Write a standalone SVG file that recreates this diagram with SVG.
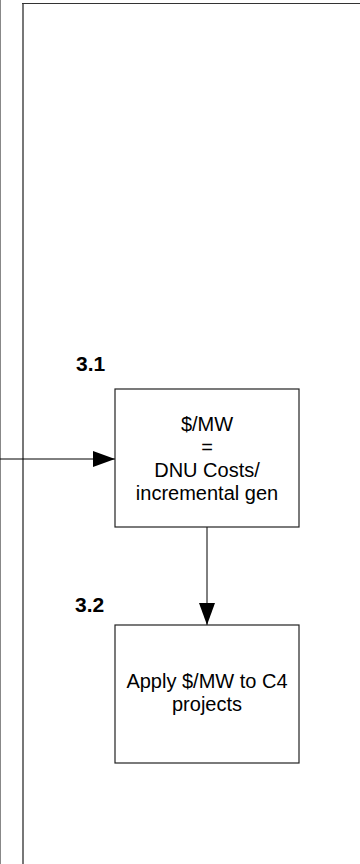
<svg xmlns="http://www.w3.org/2000/svg" width="360" height="864" viewBox="0 0 360 864">
<style>
.box{fill:#fff;stroke:#222;stroke-width:1.2}
.txt{font-family:"Liberation Sans",Arial,sans-serif;font-size:20px;fill:#000;text-anchor:middle}
.lbl{font-family:"Liberation Sans",Arial,sans-serif;font-size:21px;font-weight:bold;fill:#000}
.conn{stroke:#000;stroke-width:1;fill:none}
</style>
<defs>
<marker id="ah" markerWidth="22" markerHeight="16" refX="22" refY="8" orient="auto" markerUnits="userSpaceOnUse">
<path d="M0,0 L22,8 L0,16 Z" fill="#000"/>
</marker>
</defs>
<rect width="360" height="864" fill="#fff"/>
<g id="frame">
<line x1="0.5" y1="0" x2="0.5" y2="864" stroke="#888" stroke-width="1"/>
<line x1="23" y1="3" x2="23" y2="864" stroke="#777" stroke-width="2"/>
<line x1="22" y1="3.5" x2="360" y2="3.5" stroke="#333" stroke-width="1"/>
</g>
<g id="connectors">
<line class="conn" x1="0" y1="459" x2="115" y2="459" marker-end="url(#ah)"/>
<line class="conn" x1="207" y1="527" x2="207" y2="625" marker-end="url(#ah)"/>
</g>
<g id="node-3-1">
<rect class="box" x="115" y="389" width="184" height="138"/>
<text class="lbl" x="76" y="371">3.1</text>
<text class="txt" x="207" y="431">$/MW</text>
<text class="txt" x="207" y="454">=</text>
<text class="txt" x="207" y="477">DNU Costs/</text>
<text class="txt" x="207" y="500">incremental gen</text>
</g>
<g id="node-3-2">
<rect class="box" x="115" y="625" width="184" height="138"/>
<text class="lbl" x="75" y="612">3.2</text>
<text class="txt" x="207" y="688">Apply $/MW to C4</text>
<text class="txt" x="207" y="711">projects</text>
</g>
</svg>
